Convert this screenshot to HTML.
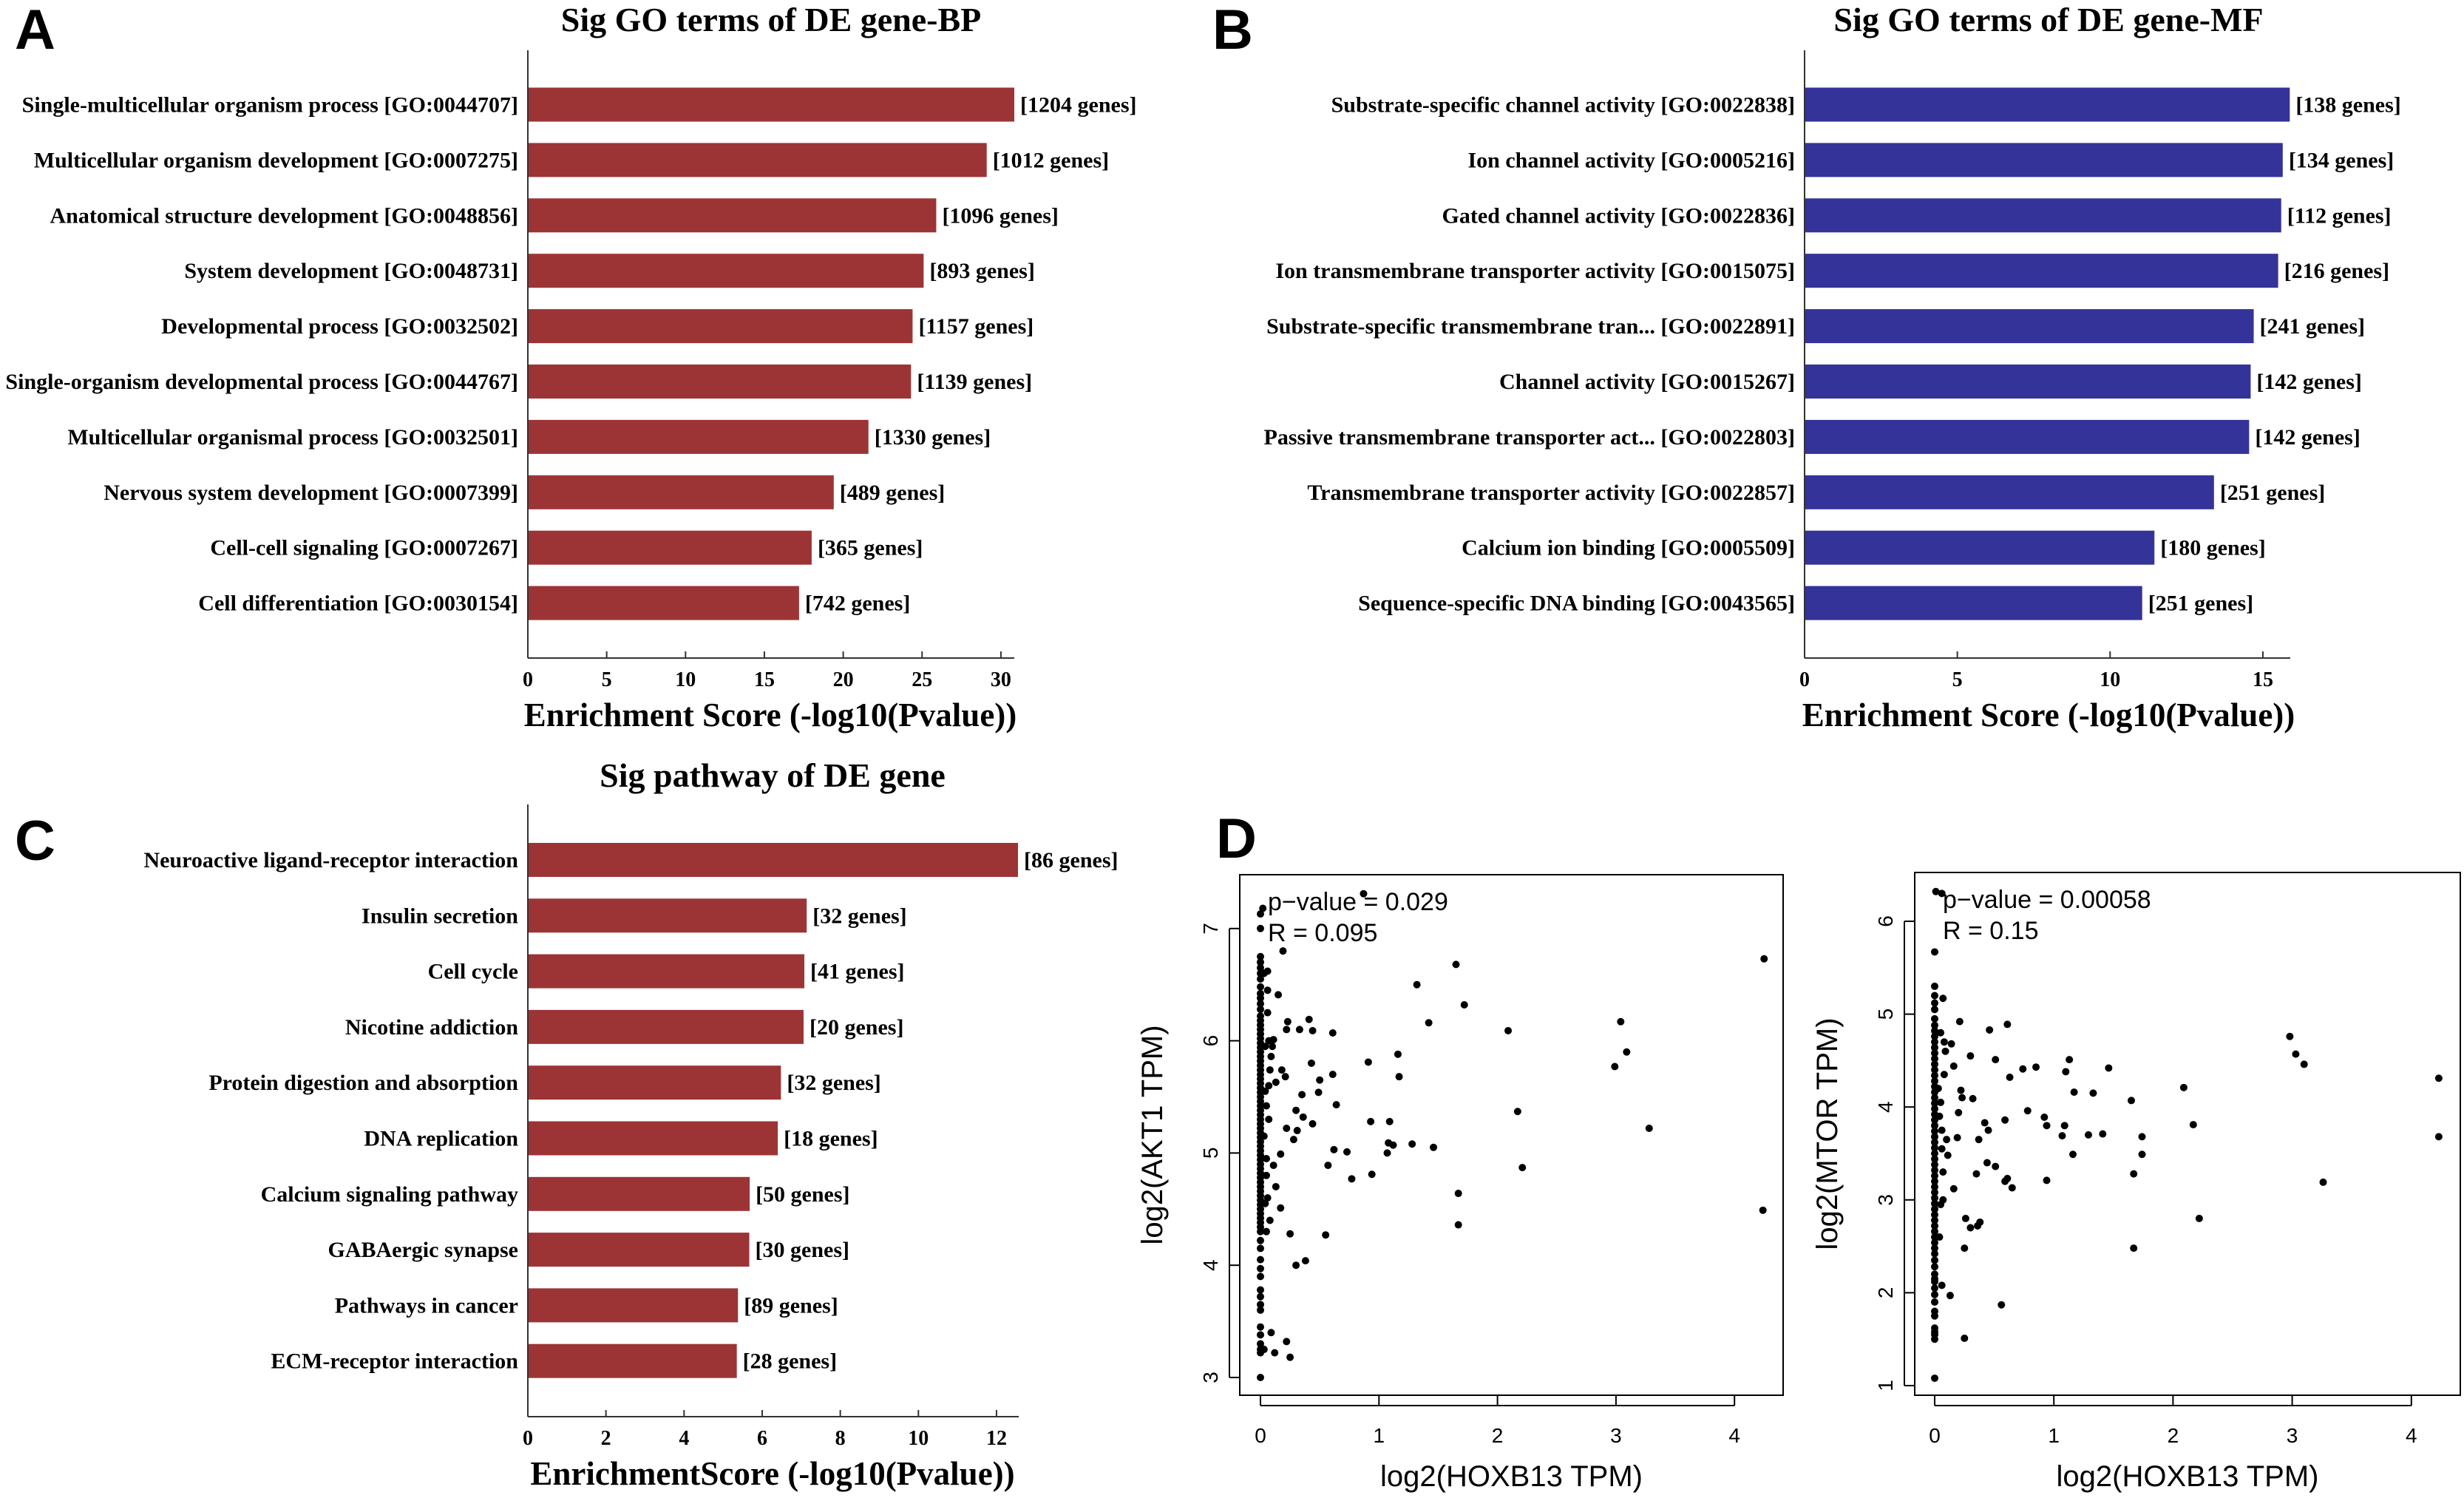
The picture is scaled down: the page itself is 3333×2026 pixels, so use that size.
<!DOCTYPE html>
<html><head><meta charset="utf-8">
<style>
html,body{margin:0;padding:0;background:#fff;}
svg{display:block;}
.lab{font-family:"Liberation Serif",serif;font-weight:bold;font-size:30px;fill:#000;}
.tit{font-family:"Liberation Serif",serif;font-weight:bold;font-size:46px;fill:#000;}
.xl{font-family:"Liberation Serif",serif;font-weight:bold;font-size:45px;fill:#000;}
.tk{font-family:"Liberation Serif",serif;font-weight:bold;font-size:28px;fill:#000;}
.pl{font-family:"Liberation Sans",sans-serif;font-weight:bold;font-size:76px;fill:#000;}
.ss{font-family:"Liberation Sans",sans-serif;font-size:34px;fill:#000;}
.ax{font-family:"Liberation Sans",sans-serif;font-size:40px;fill:#000;}
.st{font-family:"Liberation Sans",sans-serif;font-size:28px;fill:#000;}
</style></head>
<body>
<svg id="fig" width="3333" height="2026" viewBox="0 0 3333 2026" xmlns="http://www.w3.org/2000/svg">
<text class="pl" x="20" y="66">A</text>
<text class="pl" x="1640" y="66">B</text>
<text class="pl" x="20" y="1163">C</text>
<text class="pl" x="1645" y="1160">D</text>
</svg>
<script>
// ---- Panel A data ----
const bpTerms=["Single-multicellular organism process [GO:0044707]","Multicellular organism development [GO:0007275]","Anatomical structure development [GO:0048856]","System development [GO:0048731]","Developmental process [GO:0032502]","Single-organism developmental process [GO:0044767]","Multicellular organismal process [GO:0032501]","Nervous system development [GO:0007399]","Cell-cell signaling [GO:0007267]","Cell differentiation [GO:0030154]"];
const bpScores=[30.85,29.1,25.9,25.1,24.4,24.3,21.6,19.4,18.0,17.2];
const bpGenes=["[1204 genes]","[1012 genes]","[1096 genes]","[893 genes]","[1157 genes]","[1139 genes]","[1330 genes]","[489 genes]","[365 genes]","[742 genes]"];
const bpTicks=[0,5,10,15,20,25,30];
// ---- Panel B data ----
const mfTerms=["Substrate-specific channel activity [GO:0022838]","Ion channel activity [GO:0005216]","Gated channel activity [GO:0022836]","Ion transmembrane transporter activity [GO:0015075]","Substrate-specific transmembrane tran... [GO:0022891]","Channel activity [GO:0015267]","Passive transmembrane transporter act... [GO:0022803]","Transmembrane transporter activity [GO:0022857]","Calcium ion binding [GO:0005509]","Sequence-specific DNA binding [GO:0043565]"];
const mfScores=[15.88,15.65,15.6,15.5,14.7,14.6,14.55,13.4,11.45,11.05];
const mfGenes=["[138 genes]","[134 genes]","[112 genes]","[216 genes]","[241 genes]","[142 genes]","[142 genes]","[251 genes]","[180 genes]","[251 genes]"];
const mfTicks=[0,5,10,15];
// ---- Panel C data ----
const pwTerms=["Neuroactive ligand-receptor interaction","Insulin secretion","Cell cycle","Nicotine addiction","Protein digestion and absorption","DNA replication","Calcium signaling pathway","GABAergic synapse","Pathways in cancer","ECM-receptor interaction"];
const pwScores=[12.55,7.14,7.08,7.06,6.48,6.4,5.68,5.67,5.38,5.35];
const pwGenes=["[86 genes]","[32 genes]","[41 genes]","[20 genes]","[32 genes]","[18 genes]","[50 genes]","[30 genes]","[89 genes]","[28 genes]"];
const pwTicks=[0,2,4,6,8,10,12];
// ---- Panel D data (AKT1) ----
const akt1X=[4.25,4.24,1.65,1.32,1.72,1.42,2.09,3.04,3.09,2.99,3.28,2.17,2.21,1.67,1.67,0.91,1.16,1.17,0.93,1.09,1.08,1.12,1.07,1.28,1.46,0.94,0.77,0.73,0.57,0.62,0.64,0.61,0.61,0.43,0.50,0.49,0.35,0.36,0.30,0.31,0.28,0.44,0.41,0.44,0.33,0.22,0.23,0.19,0.15,0.11,0.10,0.18,0.21,0.13,0.22,0.17,0.13,0.17,0.25,0.55,0.38,0.30,0.22,0.25,0.12,0.87,0.02,0.11,0.06,0.08,0.05,0.07,0.04,0.09,0.06,0.05,0.03,0.08,0.04,0.06,0.05,0.07,0.03,0.06,0.04,0.09,0.05,0.03,0.07,
0,0,0,0,0,0,0,0,0,0,0,0,0,0,0,0,0,0,0,0,0,0,0,0,0,0,0,0,0,0,0,0,0,0,0,0,0,0,0,0,0,0,0,0,0,0,0,0,0,0,0,0,0,0,0,0,0,0,0,0,0,0,0,0,0,0,0,0,0,0,0,0,0,0,0,0];
const akt1Y=[6.73,4.49,6.68,6.50,6.32,6.16,6.09,6.17,5.90,5.77,5.22,5.37,4.87,4.64,4.36,5.81,5.88,5.68,5.28,5.28,5.09,5.07,5.00,5.08,5.05,4.81,4.77,5.01,4.89,5.03,5.43,5.70,6.07,5.80,5.65,5.54,5.52,5.32,5.38,5.20,5.12,5.26,6.19,6.09,6.10,6.10,6.17,6.80,6.41,6.01,5.95,5.74,5.68,5.63,5.22,4.99,4.70,4.51,4.28,4.27,4.04,4.00,3.32,3.18,3.22,7.31,7.18,4.89,6.62,5.74,5.42,5.60,4.55,5.86,6.25,4.80,5.15,4.40,5.55,6.45,4.95,5.30,6.60,4.60,5.95,3.40,4.30,3.25,6.00,
7.13,7.00,6.75,6.70,6.65,6.60,6.55,6.48,6.42,6.38,6.33,6.28,6.22,6.18,6.14,6.10,6.06,6.02,5.98,5.94,5.90,5.86,5.82,5.78,5.74,5.70,5.66,5.62,5.58,5.54,5.50,5.46,5.42,5.38,5.34,5.30,5.26,5.22,5.18,5.14,5.10,5.06,5.02,4.98,4.94,4.90,4.86,4.82,4.78,4.74,4.70,4.66,4.62,4.58,4.54,4.50,4.46,4.42,4.38,4.34,4.30,4.22,4.15,4.05,3.97,3.90,3.78,3.72,3.65,3.60,3.45,3.38,3.30,3.25,3.22,3.00];
// ---- Panel D data (MTOR) ----
const mtorX=[4.23,4.23,2.98,3.03,3.10,3.26,2.09,2.17,2.22,1.65,1.74,1.74,1.67,1.67,1.46,1.13,1.10,1.17,1.33,1.41,1.29,1.09,1.07,1.16,0.94,0.92,0.94,0.78,0.85,0.74,0.61,0.46,0.51,0.63,0.59,0.42,0.45,0.37,0.44,0.51,0.35,0.59,0.61,0.65,0.30,0.32,0.21,0.22,0.23,0.20,0.19,0.26,0.30,0.38,0.36,0.25,0.13,0.56,0.25,0.14,0.16,0.11,0.16,0.06,0.01,0.06,0.00,0.07,0.05,0.08,0.04,0.09,0.06,0.03,0.07,0.05,0.08,0.04,0.06,0.10,0.05,0.07,
0,0,0,0,0,0,0,0,0,0,0,0,0,0,0,0,0,0,0,0,0,0,0,0,0,0,0,0,0,0,0,0,0,0,0,0,0,0,0,0,0,0,0,0,0,0,0,0,0,0,0,0,0,0,0,0,0,0,0,0,0,0];
const mtorY=[4.31,3.68,4.76,4.57,4.46,3.19,4.21,3.81,2.80,4.07,3.68,3.49,3.28,2.48,4.42,4.51,4.38,4.16,4.15,3.71,3.70,3.80,3.69,3.49,3.21,3.89,3.80,3.96,4.43,4.41,4.89,4.83,4.51,4.32,3.86,3.83,3.75,3.65,3.40,3.36,3.28,3.20,3.23,3.13,4.55,4.09,4.92,4.18,4.10,3.94,3.67,2.80,2.70,2.76,2.72,2.48,1.97,1.87,1.51,4.68,4.44,3.48,3.12,2.08,6.32,6.30,5.67,5.17,4.80,4.35,3.90,4.60,3.55,4.20,3.30,2.95,4.70,2.60,3.75,3.65,4.05,3.00,
5.30,5.20,5.12,5.05,4.95,4.88,4.82,4.76,4.70,4.64,4.58,4.52,4.46,4.40,4.34,4.28,4.22,4.16,4.10,4.04,3.98,3.92,3.86,3.80,3.74,3.68,3.62,3.56,3.50,3.44,3.38,3.32,3.26,3.20,3.14,3.08,3.02,2.96,2.90,2.84,2.78,2.72,2.66,2.60,2.54,2.48,2.42,2.35,2.28,2.20,2.12,2.05,1.98,1.90,1.80,1.75,1.62,1.58,1.55,1.50,1.08,2.15];
const akt1Ticks=[3,4,5,6,7], mtorTicks=[1,2,3,4,5,6], hoxTicks=[0,1,2,3,4];

const NS="http://www.w3.org/2000/svg";
const svg=document.getElementById('fig');
function mk(tag,attrs,parent){const e=document.createElementNS(NS,tag);for(const k in attrs)e.setAttribute(k,attrs[k]);(parent||svg).appendChild(e);return e;}

function barPanel(o){
  const g=mk('g',{});
  
  
  const x=v=>o.x0+v*o.ppu;
  const yc=i=>o.y0+i*o.step;
  const t=mk('text',{x:o.tx,y:o.ty,'text-anchor':'middle',class:'tit'},g);t.textContent=o.title;
  
  
  mk('line',{x1:o.x0,y1:o.top,x2:o.x0,y2:o.bot,stroke:'#333','stroke-width':2},g);
  mk('line',{x1:o.x0,y1:o.bot,x2:o.axEnd,y2:o.bot,stroke:'#333','stroke-width':2},g);
  o.terms.forEach((term,i)=>{
    const r=mk('rect',{x:o.x0+1,y:yc(i)-23,width:x(o.scores[i])-o.x0-1,height:46,fill:o.color},g);
    
    
    const l=mk('text',{x:o.x0-13,y:yc(i)+10,'text-anchor':'end',class:'lab'},g);l.textContent=term;
    
    
    const gl=mk('text',{x:x(o.scores[i])+8,y:yc(i)+10,class:'lab'},g);gl.textContent=o.genes[i];
    
    
  });
  o.ticks.forEach(v=>{
    mk('line',{x1:x(v),y1:o.bot,x2:x(v),y2:o.bot-9,stroke:'#333','stroke-width':2},g);
    const tt=mk('text',{x:x(v),y:o.bot+38,'text-anchor':'middle',class:'tk'},g);tt.textContent=v;
    
    
  });
  const xl=mk('text',{x:o.xlx,y:o.bot+92,'text-anchor':'middle',class:'xl'},g);xl.textContent=o.xlabel;
  
  
}
barPanel({name:'bp-bar-chart',terms:bpTerms,scores:bpScores,genes:bpGenes,ticks:bpTicks,x0:714,ppu:21.33,y0:141.5,step:74.9,top:68,bot:890,axEnd:1372,color:'#9c3436',title:'Sig GO terms of DE gene-BP',tx:1043,ty:42,xlabel:'Enrichment Score (-log10(Pvalue))',xlx:1042});
barPanel({name:'mf-bar-chart',terms:mfTerms,scores:mfScores,genes:mfGenes,ticks:mfTicks,x0:2441,ppu:41.33,y0:141.5,step:74.9,top:68,bot:890,axEnd:3098,color:'#343399',title:'Sig GO terms of DE gene-MF',tx:2771,ty:42,xlabel:'Enrichment Score (-log10(Pvalue))',xlx:2771});
barPanel({name:'pathway-bar-chart',terms:pwTerms,scores:pwScores,genes:pwGenes,ticks:pwTicks,x0:714,ppu:52.83,y0:1163,step:75.3,top:1088,bot:1916,axEnd:1378,color:'#9c3436',title:'Sig pathway of DE gene',tx:1045,ty:1064,xlabel:'EnrichmentScore (-log10(Pvalue))',xlx:1045});

function scatter(o){
  const g=mk('g',{});
  
  
  const x=v=>o.xz+v*o.xp, y=v=>o.yz-(v-o.yb)*o.yp;
  mk('rect',{x:o.L,y:o.T,width:o.R-o.L,height:o.B-o.T,fill:'none',stroke:'#000','stroke-width':2},g);
  o.xs.forEach((xv,i)=>{
    const c=mk('circle',{cx:x(xv),cy:y(o.ys[i]),r:5,fill:'#000'},g);
    
    
  });
  o.xt.forEach(v=>{
    mk('line',{x1:x(v),y1:o.B,x2:x(v),y2:o.B+14,stroke:'#000','stroke-width':2},g);
    const t=mk('text',{x:x(v),y:o.B+64,'text-anchor':'middle',class:'st'},g);t.textContent=v;
    
    
  });
  mk('line',{x1:x(o.xt[0]),y1:o.B+14,x2:x(o.xt[o.xt.length-1]),y2:o.B+14,stroke:'#000','stroke-width':2},g);
  o.yt.forEach(v=>{
    mk('line',{x1:o.L,y1:y(v),x2:o.L-14,y2:y(v),stroke:'#000','stroke-width':2},g);
    const t=mk('text',{x:0,y:0,'text-anchor':'middle',class:'st',transform:`translate(${o.L-30},${y(v)}) rotate(-90)`},g);t.textContent=v;
    
    
  });
  mk('line',{x1:o.L-14,y1:y(o.yt[0]),x2:o.L-14,y2:y(o.yt[o.yt.length-1]),stroke:'#000','stroke-width':2},g);
  const xl=mk('text',{x:(o.L+o.R)/2,y:2010,'text-anchor':'middle',class:'ax'},g);xl.textContent='log2(HOXB13 TPM)';
  
  
  const yl=mk('text',{x:0,y:0,'text-anchor':'middle',class:'ax',transform:`translate(${o.L-105},${(o.T+o.B)/2}) rotate(-90)`},g);yl.textContent=o.ylabel;
  
  
  const p=mk('text',{x:o.L+38,y:o.T+48,class:'ss'},g);p.textContent=o.p;
  
  
  const r=mk('text',{x:o.L+38,y:o.T+90,class:'ss'},g);r.textContent=o.r;
  
  
}
scatter({name:'akt1-scatter',xs:akt1X,ys:akt1Y,L:1677,R:2412,T:1183,B:1887,xz:1705,xp:160.3,yz:1863,yb:3,yp:151.8,xt:hoxTicks,yt:akt1Ticks,ylabel:'log2(AKT1 TPM)',p:'p\u2212value = 0.029',r:'R = 0.095'});
scatter({name:'mtor-scatter',xs:mtorX,ys:mtorY,L:2590,R:3328,T:1180,B:1887,xz:2617,xp:161.2,yz:1874,yb:1,yp:125.6,xt:hoxTicks,yt:mtorTicks,ylabel:'log2(MTOR TPM)',p:'p\u2212value = 0.00058',r:'R = 0.15'});
</script>
</body></html>
